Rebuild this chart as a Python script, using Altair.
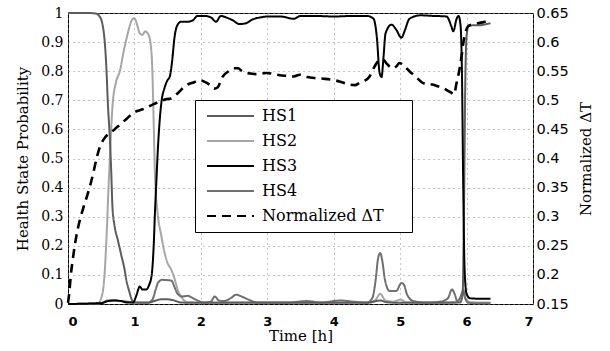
import altair as alt
import pandas as pd

# ---------------- data ----------------
t_hs1 = [0.0, 0.3, 0.42, 0.47, 0.52, 0.56, 0.58, 0.6, 0.63, 0.65, 0.67, 0.7, 0.75, 0.8, 0.85, 0.88, 0.92,
         0.96, 1.0, 1.2, 1.32, 1.4, 1.5, 1.6, 1.7, 2.0, 2.5, 3.0, 3.5, 4.0, 4.5, 4.7, 4.8, 5.0, 5.5, 5.9,
         5.94, 5.96, 5.98, 6.0, 6.03, 6.1, 6.2, 6.3, 6.36]
p_hs1 = [1.0, 1.0, 0.998, 0.99, 0.96, 0.88, 0.8, 0.69, 0.57, 0.46, 0.33, 0.27, 0.22, 0.17, 0.12, 0.08, 0.045,
         0.015, 0.005, 0.004, 0.012, 0.016, 0.016, 0.012, 0.005, 0.004, 0.004, 0.004, 0.004, 0.004, 0.004, 0.012,
         0.006, 0.004, 0.004, 0.005, 0.03, 0.3, 0.75, 0.92, 0.955, 0.958, 0.958, 0.962, 0.965]

t_hs2 = [0.0, 0.45, 0.5, 0.55, 0.58, 0.61, 0.63, 0.67, 0.72, 0.78, 0.84, 0.9, 0.96, 1.0, 1.04, 1.08, 1.12,
         1.16, 1.2, 1.24, 1.27, 1.29, 1.31, 1.35, 1.4, 1.45, 1.5, 1.55, 1.6, 1.65, 1.72, 1.8, 2.2, 2.6, 3.0,
         3.5, 4.0, 4.5, 4.62, 4.7, 4.78, 4.9, 5.0, 5.1, 5.5, 5.85, 5.92, 5.95, 5.98, 6.05, 6.36]
p_hs2 = [0.0, 0.002, 0.02, 0.1, 0.23, 0.4, 0.5, 0.68, 0.76, 0.8, 0.87, 0.93, 0.975, 0.982, 0.96, 0.93, 0.925,
         0.937, 0.93, 0.9, 0.8, 0.62, 0.44, 0.31, 0.24, 0.18, 0.14, 0.12, 0.09, 0.05, 0.02, 0.006, 0.005, 0.006,
         0.005, 0.005, 0.005, 0.005, 0.012, 0.035, 0.012, 0.008, 0.015, 0.006, 0.005, 0.008, 0.03, 0.05, 0.02,
         0.006, 0.005]

t_hs3 = [0.0, 0.5, 0.6, 0.7, 0.8, 0.9, 0.98, 1.03, 1.08, 1.12, 1.18, 1.22, 1.26, 1.29, 1.31, 1.33, 1.35,
         1.38, 1.41, 1.45, 1.5, 1.53, 1.57, 1.6, 1.64, 1.7, 1.8, 1.88, 1.95, 2.05, 2.15, 2.23, 2.3, 2.38, 2.48,
         2.58, 2.68, 2.78, 2.9, 3.0, 3.2, 3.4, 3.5, 3.7, 4.0, 4.3, 4.5, 4.6, 4.65, 4.69, 4.72, 4.75, 4.78,
         4.87, 4.94, 5.02, 5.07, 5.14, 5.3, 5.5, 5.7, 5.77, 5.8, 5.85, 5.88, 5.91, 5.93, 5.95, 5.97, 6.0,
         6.05, 6.2, 6.36]
p_hs3 = [0.0, 0.003, 0.01, 0.012, 0.01, 0.005, 0.005, 0.03, 0.06, 0.05, 0.05, 0.065, 0.1, 0.2, 0.32, 0.42,
         0.52, 0.63, 0.7, 0.74, 0.77, 0.78, 0.84, 0.91, 0.955, 0.97, 0.97, 0.975, 0.99, 0.99, 0.985, 0.97,
         0.99, 0.985, 0.975, 0.962, 0.965, 0.978, 0.985, 0.988, 0.988, 0.98, 0.99, 0.99, 0.988, 0.99, 0.99,
         0.98, 0.915, 0.795, 0.78, 0.85, 0.93, 0.96, 0.943, 0.915, 0.94, 0.98, 0.992, 0.99, 0.988, 0.955,
         0.937, 0.98, 0.99, 0.955, 0.8, 0.4, 0.12, 0.035, 0.02, 0.018, 0.018]

t_hs4 = [0.0, 0.5, 0.6, 0.7, 0.8, 0.9, 1.0, 1.2, 1.27, 1.32, 1.36, 1.42, 1.5, 1.56, 1.6, 1.65, 1.72, 1.8,
         1.88, 1.95, 2.05, 2.15, 2.21, 2.27, 2.35, 2.45, 2.53, 2.62, 2.75, 2.85, 3.0, 3.3, 3.6, 3.8, 4.1,
         4.3, 4.5, 4.58, 4.63, 4.67, 4.7, 4.73, 4.77, 4.84, 4.94, 5.02, 5.06, 5.1, 5.2, 5.4, 5.6, 5.72, 5.78,
         5.82, 5.86, 5.9, 5.95, 5.98, 6.02, 6.1, 6.36]
p_hs4 = [0.0, 0.003, 0.012, 0.012, 0.01, 0.008, 0.005, 0.005, 0.015, 0.05, 0.075, 0.083, 0.082, 0.08, 0.06,
         0.035, 0.026, 0.028, 0.02, 0.012, 0.005, 0.008, 0.026, 0.012, 0.01, 0.02, 0.032, 0.025, 0.012, 0.005,
         0.005, 0.005, 0.01, 0.005, 0.012, 0.008, 0.005, 0.02, 0.08, 0.16, 0.175, 0.15, 0.085, 0.045, 0.045,
         0.072, 0.065, 0.035, 0.01, 0.005, 0.008, 0.02, 0.05, 0.035, 0.01, 0.02, 0.045, 0.02, 0.005, 0.003,
         0.003]

t_dt = [0.0, 0.02, 0.04, 0.07, 0.1, 0.14, 0.18, 0.23, 0.28, 0.33, 0.38, 0.43, 0.48, 0.55, 0.63, 0.7, 0.78,
        0.88, 0.98, 1.08, 1.18, 1.28, 1.38, 1.48, 1.55, 1.6, 1.66, 1.73, 1.8, 1.9, 1.98, 2.05, 2.13, 2.2,
        2.25, 2.33, 2.42, 2.5, 2.56, 2.62, 2.68, 2.75, 2.83, 2.92, 2.99, 3.1, 3.19, 3.3, 3.4, 3.49, 3.6,
        3.74, 3.85, 3.99, 4.1, 4.24, 4.32, 4.39, 4.46, 4.54, 4.6, 4.67, 4.74, 4.79, 4.85, 4.89, 4.94, 4.99,
        5.05, 5.14, 5.24, 5.34, 5.42, 5.49, 5.57, 5.65, 5.72, 5.77, 5.81, 5.85, 5.88, 5.9, 5.93, 5.95, 5.98,
        6.02, 6.1, 6.2, 6.28, 6.35]
v_dt = [0.152, 0.17, 0.197, 0.225, 0.249, 0.275, 0.295, 0.315, 0.333, 0.352, 0.375, 0.4, 0.42, 0.435, 0.444,
        0.45, 0.458, 0.468, 0.478, 0.483, 0.487, 0.493, 0.498, 0.502, 0.503, 0.507, 0.513, 0.521, 0.527,
        0.531, 0.535, 0.532, 0.527, 0.52, 0.522, 0.541, 0.55, 0.555, 0.555, 0.55, 0.547, 0.546, 0.545,
        0.546, 0.547, 0.545, 0.543, 0.542, 0.541, 0.544, 0.54, 0.538, 0.537, 0.535, 0.532, 0.527, 0.526,
        0.53, 0.533, 0.541, 0.555, 0.567, 0.57, 0.564, 0.557, 0.555, 0.558, 0.564, 0.56, 0.55, 0.54, 0.53,
        0.528, 0.527, 0.524, 0.521, 0.516, 0.513, 0.51, 0.53, 0.545, 0.558, 0.58, 0.598, 0.615, 0.627,
        0.631, 0.633, 0.635, 0.637]

series_names = ["HS1", "HS2", "HS3", "HS4", "Normalized ΔT"]
series_colors = ["#5c5c5c", "#a6a6a6", "#000000", "#707070", "#000000"]
series_dash = [[1, 0], [1, 0], [1, 0], [1, 0], [9, 6]]

left_ticks = [0, 0.1, 0.2, 0.3, 0.4, 0.5, 0.6, 0.7, 0.8, 0.9, 1.0]
right_ticks = [0.15, 0.2, 0.25, 0.3, 0.35, 0.4, 0.45, 0.5, 0.55, 0.6, 0.65]
x_ticks = [0, 1, 2, 3, 4, 5, 6, 7]


def frame(name, ts, vs):
    return pd.DataFrame({"t": ts, "v": vs, "series": name})


legend = alt.Legend(
    title=None, orient="none", legendX=127, legendY=87, direction="vertical",
    symbolType="stroke", symbolSize=2209, symbolStrokeWidth=2, clipHeight=20,
    rowPadding=5, padding=6, symbolOffset=5, labelOffset=7,
    labelFont="DejaVu Serif", labelFontSize=16, labelColor="black", labelLimit=0,
    labelExpr="datum.label == 'Normalized ΔT' ? datum.label + '\u00a0\u00a0\u2800' : datum.label",
    strokeColor="black", fillColor="white",
)
color = alt.Color("series:N", scale=alt.Scale(domain=series_names, range=series_colors), legend=legend)
dash = alt.StrokeDash("series:N", scale=alt.Scale(domain=series_names, range=series_dash), legend=legend)

x = alt.X("t:Q", scale=alt.Scale(domain=[0, 7], nice=False),
          axis=alt.Axis(values=x_ticks, format="d", title="Time [h]",
                        labelFont="DejaVu Sans", labelFontWeight="bold", labelFontSize=13,
                        labelPadding=11, labelBaseline="top",
                        titleX=232.5, titleY=36.5, titleBaseline="alphabetic",
                        grid=True))
y_left = alt.Y("v:Q", scale=alt.Scale(domain=[0, 1], nice=False),
               axis=alt.Axis(values=left_ticks, format=".1~f", title="Health State Probability",
                             orient="left", labelFont="DejaVu Serif", labelFontSize=14,
                             labelPadding=5, titleX=-41, titleY=145.5, titleAngle=270,
                             titleAlign="center", titleBaseline="alphabetic", grid=True))
y_right = alt.Y("v:Q", scale=alt.Scale(domain=[0.15, 0.65], nice=False, zero=False),
                axis=alt.Axis(values=right_ticks, format=".2~f", title="Normalized ΔT",
                              orient="right", labelFont="DejaVu Sans", labelFontSize=14.5,
                              labelPadding=3, titleX=57, titleY=145.5, titleAngle=270,
                              titleAlign="center", titleBaseline="alphabetic", grid=False))


def hs_line(name, ts, vs):
    return alt.Chart(frame(name, ts, vs)).mark_line(strokeWidth=2, interpolate="monotone").encode(
        x=x, y=y_left, color=color, strokeDash=dash)


hs = alt.layer(
    hs_line("HS2", t_hs2, p_hs2),
    hs_line("HS4", t_hs4, p_hs4),
    hs_line("HS1", t_hs1, p_hs1),
    hs_line("HS3", t_hs3, p_hs3),
)
dt = alt.Chart(frame("Normalized ΔT", t_dt, v_dt)).mark_line(strokeWidth=2.6, interpolate="monotone").encode(
    x=x, y=y_right, color=color, strokeDash=dash)

chart = alt.layer(hs, dt).resolve_scale(y="independent").properties(
    width=465, height=291,
    padding={"left": 68, "top": 13, "right": 77, "bottom": 47},
    autosize=alt.AutoSizeParams(type="none"),
    background="white",
).configure_view(stroke="black", strokeWidth=1).configure_axis(
    domain=False, ticks=False, tickSize=0,
    labelColor="black", titleColor="black",
    titleFont="DejaVu Serif", titleFontSize=15, titleFontWeight="normal",
    gridColor="#8a8a8a", gridDash=[1, 4], gridWidth=1,
)

chart.save("out.html", embed_options={"renderer": "svg", "actions": False})
